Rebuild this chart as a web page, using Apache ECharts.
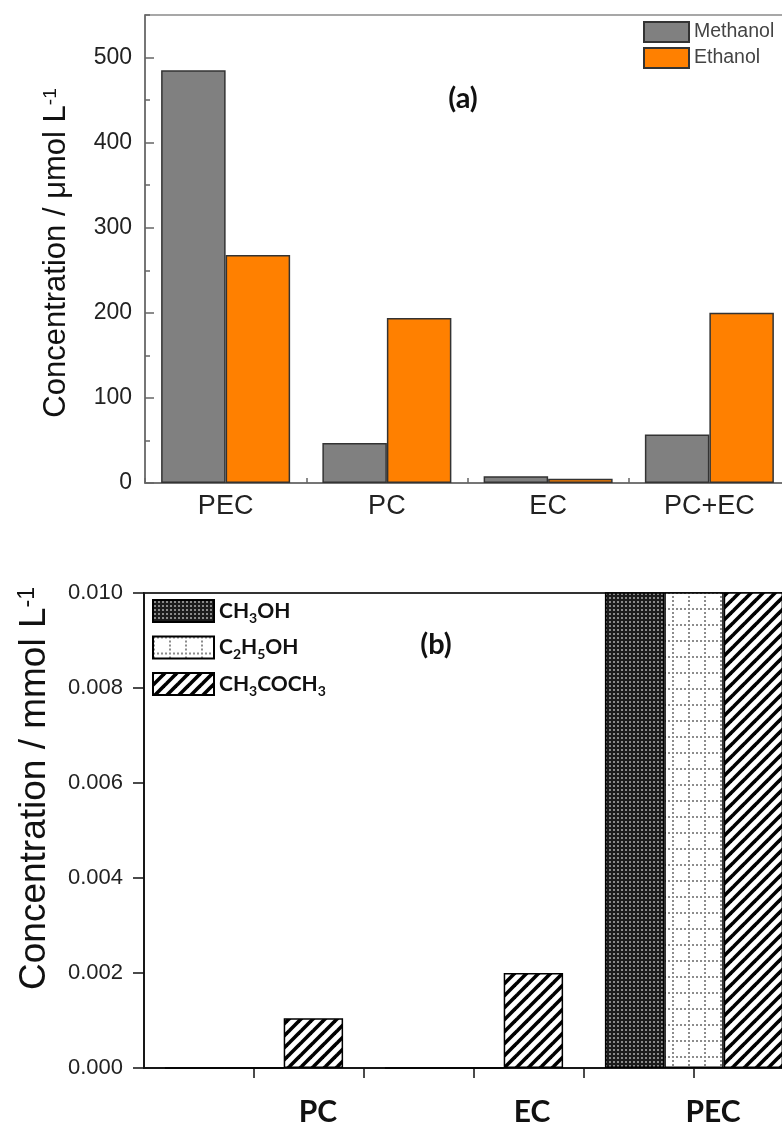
<!DOCTYPE html>
<html>
<head>
<meta charset="utf-8">
<script src="https://cdn.jsdelivr.net/npm/echarts@6/dist/echarts.min.js"></script>
<style>
html,body{margin:0;padding:0;background:#fff;}
#chart{width:782px;height:1122px;}
</style>
</head>
<body>
<div id="chart"></div>
<script>
// ---------- Data: panel (a) ----------
const categoriesA = ['PEC', 'PC', 'EC', 'PC+EC'];
const methanolA = [485, 47, 8, 57];
const ethanolA = [268, 194, 5, 200];
const seriesNamesA = ['Methanol', 'Ethanol'];
const yMaxA = 550;
const yIntervalA = 100;
const yMinorIntervalA = 50;

// ---------- Data: panel (b) ----------
const categoriesB = ['PC', 'EC', 'PEC'];
const ch3ohB = [0, 0, 0.012];
const c2h5ohB = [0, 0, 0.012];
const acetoneB = [0.00105, 0.002, 0.012];
const seriesNamesB = ['CH3OH', 'C2H5OH', 'CH3COCH3'];
const yMaxB = 0.010;
const yIntervalB = 0.002;

// ---------- Patterns ----------
function makeCanvas(w, h, draw) {
  const c = document.createElement('canvas');
  c.width = w; c.height = h;
  draw(c.getContext('2d'));
  return c;
}
const darkDots = makeCanvas(4, 4, g => {
  g.fillStyle = '#1c1c1c'; g.fillRect(0, 0, 4, 4);
  g.fillStyle = '#8a8a8a'; g.fillRect(1, 1, 2, 2);
});
const dottedGrid = makeCanvas(16, 16, g => {
  g.fillStyle = '#ffffff'; g.fillRect(0, 0, 16, 16);
  g.fillStyle = '#8c8c8c';
  for (let i = 0; i < 16; i += 4) { g.fillRect(i, 0, 2, 2); g.fillRect(0, i, 2, 2); }
});
const stripes = makeCanvas(12, 12, g => {
  g.fillStyle = '#ffffff'; g.fillRect(0, 0, 12, 12);
  g.strokeStyle = '#000000'; g.lineWidth = 3.6;
  [0, 12, 24].forEach(c => { g.beginPath(); g.moveTo(-12, c + 12); g.lineTo(24, c - 24); g.stroke(); });
});
const patternsB = [darkDots, dottedGrid, stripes].map(img => ({ image: img, repeat: 'repeat' }));

const chart = echarts.init(document.getElementById('chart'));
const fontA = 'Liberation Sans';
const fontB = 'Lato';

const option = {
  backgroundColor: '#ffffff',
  animation: false,
  title: [
    { text: '(a)', left: 463, top: 84, textAlign: 'center', padding: 0,
      textStyle: { fontFamily: fontB, fontWeight: 'bold', fontSize: 29, color: '#111' } },
    { text: '(b)', left: 436, top: 630, textAlign: 'center', padding: 0,
      textStyle: { fontFamily: fontB, fontWeight: 'bold', fontSize: 29, color: '#111' } }
  ],
  legend: [
    { orient: 'vertical', left: 643, top: 21, padding: 0, icon: 'rect', itemWidth: 45, itemHeight: 20, itemGap: 4,
      data: seriesNamesA,
      textStyle: { fontFamily: fontA, fontSize: 19.5, color: '#444' } },
    { orient: 'vertical', left: 152, top: 597, padding: 0, icon: 'rect', itemWidth: 61, itemHeight: 22, itemGap: 8.5,
      data: seriesNamesB,
      formatter: n => n.replace(/(\d)/g, '{s|$1}'),
      textStyle: { fontFamily: fontB, fontWeight: 'bold', fontSize: 21, color: '#111', lineHeight: 28,
        rich: { s: { fontFamily: fontB, fontWeight: 'bold', fontSize: 14, color: '#111', verticalAlign: 'bottom', lineHeight: 14 } } } }
  ],
  grid: [
    { left: 145, top: 15, width: 645, height: 468, outerBoundsMode: 'none', containLabel: false,
      show: true, borderColor: '#8a8a8a', borderWidth: 1.5, backgroundColor: 'transparent' },
    { left: 144, top: 593, width: 660, height: 475, outerBoundsMode: 'none', containLabel: false,
      show: true, borderColor: '#333', borderWidth: 2, backgroundColor: 'transparent' }
  ],
  xAxis: [
    { gridIndex: 0, type: 'category', data: categoriesA, position: 'bottom',
      axisLine: { lineStyle: { color: '#666', width: 1.5 } },
      axisTick: { show: true, inside: true, length: 5, lineStyle: { color: '#666', width: 1.5 } },
      axisLabel: { fontFamily: fontA, fontSize: 27, color: '#222', margin: 10, interval: 0 } },
    { gridIndex: 1, type: 'category', data: categoriesB, position: 'bottom',
      axisLine: { lineStyle: { color: '#111', width: 1.5 } },
      axisTick: { show: true, length: 10, interval: i => i !== 0, lineStyle: { color: '#111', width: 1.5 } },
      axisLabel: { interval: 0, margin: 29, fontFamily: fontB, fontWeight: 'bold', fontSize: 30, color: '#111',
        formatter: v => '{' + v.toLowerCase() + '|' + v + '}',
        rich: {
          pc: { fontFamily: fontB, fontWeight: 'bold', fontSize: 30, color: '#111', padding: [0, 0, 0, 128] },
          ec: { fontFamily: fontB, fontWeight: 'bold', fontSize: 30, color: '#111', padding: [0, 0, 0, 116] },
          pec: { fontFamily: fontB, fontWeight: 'bold', fontSize: 30, color: '#111', padding: [0, 0, 0, 38] }
        } } },
    { gridIndex: 1, type: 'category', data: categoriesB, position: 'bottom',
      axisLine: { show: false },
      axisTick: { show: true, alignWithLabel: true, length: 10, lineStyle: { color: '#111', width: 1.5 } },
      axisLabel: { show: false } }
  ],
  yAxis: [
    { gridIndex: 0, type: 'value', min: 0, max: yMaxA, interval: yIntervalA, position: 'left',
      name: 'Concentration / μmol L{sup|-1}', nameLocation: 'middle', nameRotate: 90, nameGap: 73,
      nameTextStyle: { fontFamily: fontA, fontSize: 31, color: '#111', lineHeight: 31, padding: [0, 8, 0, 0],
        rich: { sup: { fontFamily: fontA, fontSize: 19, color: '#111', verticalAlign: 'top', lineHeight: 19 } } },
      axisLine: { show: true, lineStyle: { color: '#666', width: 1.5 } },
      axisTick: { show: true, inside: true, length: 9, lineStyle: { color: '#666', width: 1.5 } },
      axisLabel: { fontFamily: fontA, fontSize: 23, color: '#222', margin: 13, showMaxLabel: false },
      splitLine: { show: false } },
    { gridIndex: 0, type: 'value', min: 0, max: yMaxA, interval: yMinorIntervalA, position: 'left',
      axisLine: { show: false },
      axisTick: { show: true, inside: true, length: 5, lineStyle: { color: '#666', width: 1.5 } },
      axisLabel: { show: false }, splitLine: { show: false } },
    { gridIndex: 1, type: 'value', min: 0, max: yMaxB, interval: yIntervalB, position: 'left',
      name: 'Concentration / mmol L{sup|-1}', nameLocation: 'middle', nameRotate: 90, nameGap: 91,
      nameTextStyle: { fontFamily: fontA, fontSize: 37, color: '#111', lineHeight: 37, padding: [0, 0, 0, 84],
        rich: { sup: { fontFamily: fontA, fontSize: 23, color: '#111', verticalAlign: 'top', lineHeight: 23 } } },
      axisLine: { show: true, lineStyle: { color: '#111', width: 1.5 } },
      axisTick: { show: true, length: 11, lineStyle: { color: '#111', width: 1.5 } },
      axisLabel: { fontFamily: fontA, fontSize: 22, color: '#222', margin: 21, formatter: v => v.toFixed(3) },
      splitLine: { show: false } }
  ],
  series: [
    { name: seriesNamesA[0], type: 'bar', xAxisIndex: 0, yAxisIndex: 0, data: methanolA,
      barGap: '0%', barCategoryGap: '20%',
      itemStyle: { color: '#808080', borderColor: '#333', borderWidth: 1.5 } },
    { name: seriesNamesA[1], type: 'bar', xAxisIndex: 0, yAxisIndex: 0, data: ethanolA,
      barGap: '0%', barCategoryGap: '20%',
      itemStyle: { color: '#ff8000', borderColor: '#333', borderWidth: 1.5 } },
    ...[ch3ohB, c2h5ohB, acetoneB].map((d, i) => ({
      name: seriesNamesB[i], type: 'bar', xAxisIndex: 1, yAxisIndex: 2, data: d,
      barGap: '0%', barCategoryGap: '19%', clip: true,
      itemStyle: { color: patternsB[i], borderColor: '#000', borderWidth: 1.5 }
    }))
  ]
};
chart.setOption(option);
</script>
</body>
</html>
